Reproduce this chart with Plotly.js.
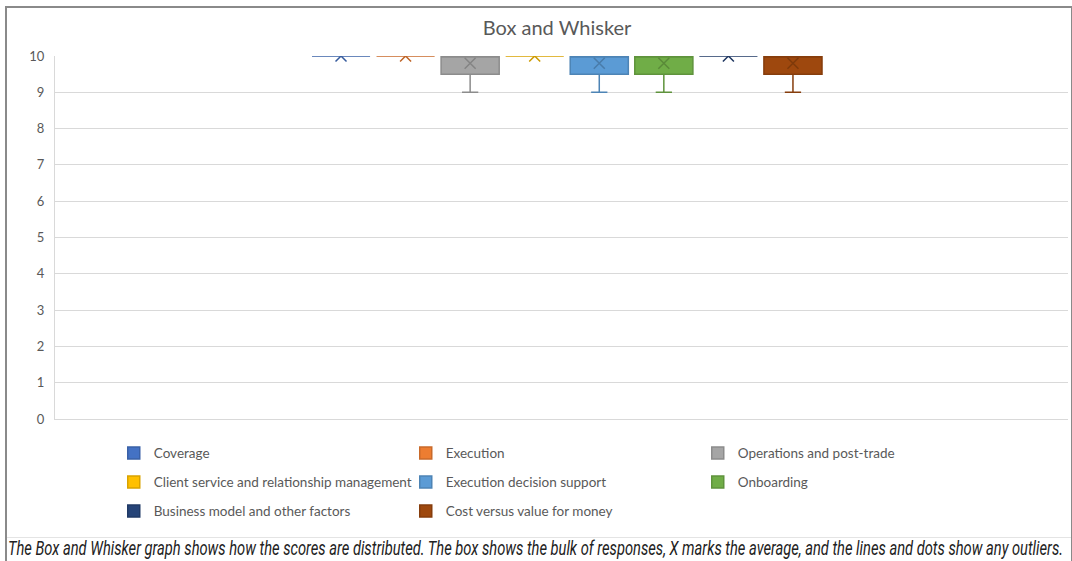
<!DOCTYPE html>
<html>
<head>
<meta charset="utf-8">
<script src="https://cdn.plot.ly/plotly-3.0.1.min.js"></script>
<style>
  html, body { margin: 0; padding: 0; background: #ffffff; }
  #chart { position: absolute; left: 0; top: 0; width: 1072px; height: 561px; }
  #frame { position: absolute; left: 5px; top: 6px; width: 1064px; height: 560px;
           border: 2px solid #8a8a8a; border-bottom: none; pointer-events: none; }
  #rule  { position: absolute; left: 7px; top: 537px; width: 1064px; height: 0;
           border-top: 1px solid #e4e4e4; pointer-events: none; }
  #caption { position: absolute; left: 8px; top: 536px; display: inline-block;
             white-space: nowrap; font-family: Roboto, "Noto Sans", sans-serif;
             font-style: italic; font-size: 20px; line-height: 24px; color: #222222;
             transform-origin: 0 50%; }
</style>
</head>
<body>
<div id="chart"></div>
<div id="frame"></div>
<div id="rule"></div>
<div id="caption"></div>
<script>
// Score categories, in legend order
const seriesNames = [
  'Coverage',
  'Execution',
  'Operations and post-trade',
  'Client service and relationship management',
  'Execution decision support',
  'Onboarding',
  'Business model and other factors',
  'Cost versus value for money'
];
const seriesColors = ['#4472C4', '#ED7D31', '#A5A5A5', '#FFC000', '#5B9BD5', '#70AD47', '#264478', '#9E480E'];

// Box statistics per category (score out of 10)
const q1Values       = [10, 10, 9.5, 10, 9.5, 9.5, 10, 9.5];
const medianValues   = [10, 10, 10,  10, 10,  10,  10, 10];
const q3Values       = [10, 10, 10,  10, 10,  10,  10, 10];
const lowerWhiskers  = [10, 10, 9,   10, 9,   9,   10, 9];
const upperWhiskers  = [10, 10, 10,  10, 10,  10,  10, 10];
const meanValues     = [10, 10, 9.8, 10, 9.8, 9.8, 10, 9.8];

const yTickValues = [0, 1, 2, 3, 4, 5, 6, 7, 8, 9, 10];
const chartTitle = 'Box and Whisker';
const captionText = 'The Box and Whisker graph shows how the scores are distributed. The box shows the bulk of responses, X marks the average, and the lines and dots show any outliers.';

function darken(hex, f) {
  const n = parseInt(hex.slice(1), 16);
  const r = Math.round(((n >> 16) & 255) * f);
  const g = Math.round(((n >> 8) & 255) * f);
  const b = Math.round((n & 255) * f);
  return 'rgb(' + r + ',' + g + ',' + b + ')';
}

const legendIds = ['legend', 'legend2', 'legend3'];
const traces = [];

seriesNames.forEach((name, i) => {
  const edge = darken(seriesColors[i], 0.85);
  traces.push({
    type: 'box',
    name: name,
    x: [i],
    q1: [q1Values[i]],
    median: [medianValues[i]],
    q3: [q3Values[i]],
    lowerfence: [lowerWhiskers[i]],
    upperfence: [upperWhiskers[i]],
    width: 0.9,
    whiskerwidth: 0.28,
    fillcolor: seriesColors[i],
    line: { color: edge, width: 1.5 },
    boxpoints: false,
    hoverinfo: 'y',
    legend: legendIds[Math.floor(i / 3)]
  });
});

// Average markers drawn as an X on each box
seriesNames.forEach((name, i) => {
  const mark = darken(seriesColors[i], 0.8);
  traces.push({
    type: 'scatter',
    mode: 'markers',
    x: [i],
    y: [meanValues[i]],
    name: name + ' average',
    showlegend: false,
    hoverinfo: 'y',
    marker: { symbol: 'x-thin-open', size: 11, color: mark, line: { color: mark, width: 1.5 } }
  });
});

const baseFont = 'Lato, "Open Sans", sans-serif';
const legendFont = { family: baseFont, size: 13.5, color: '#595959' };
function legendRow(yPos) {
  return {
    orientation: 'h',
    x: 0.058, xanchor: 'left',
    y: yPos, yanchor: 'middle',
    entrywidth: 247, entrywidthmode: 'pixels',
    font: legendFont,
    bgcolor: 'rgba(0,0,0,0)',
    traceorder: 'normal'
  };
}

const layout = {
  width: 1072,
  height: 561,
  margin: { l: 55, r: 4, t: 56, b: 142, pad: 0 },
  paper_bgcolor: '#ffffff',
  plot_bgcolor: '#ffffff',
  font: { family: baseFont, color: '#595959' },
  title: {
    text: chartTitle,
    font: { family: baseFont, size: 20, color: '#595959' },
    x: 0.4956, xref: 'paper', xanchor: 'center',
    y: 0.95, yref: 'container', yanchor: 'middle'
  },
  showlegend: true,
  legend: legendRow(-0.0945),
  legend2: legendRow(-0.1744),
  legend3: legendRow(-0.2543),
  xaxis: {
    range: [-4.43, 11.26],
    showticklabels: false,
    ticks: '',
    showgrid: false,
    zeroline: false,
    showline: true,
    linecolor: '#d9d9d9',
    linewidth: 1,
    fixedrange: true
  },
  yaxis: {
    range: [0, 10],
    tickvals: yTickValues,
    ticktext: yTickValues.map(String),
    tickfont: { family: baseFont, size: 13, color: '#595959' },
    ticks: '',
    ticklabelstandoff: 7,
    showgrid: true,
    gridcolor: '#d9d9d9',
    gridwidth: 1,
    zeroline: false,
    showline: true,
    linecolor: '#d9d9d9',
    linewidth: 1,
    fixedrange: true
  }
};

Plotly.newPlot('chart', traces, layout, { displayModeBar: false, staticPlot: true });

// Caption below the chart, set in a condensed italic that spans the frame
const caption = document.getElementById('caption');
caption.textContent = captionText;
const naturalWidth = caption.getBoundingClientRect().width;
caption.style.transform = 'scaleX(' + (1055 / naturalWidth) + ')';
</script>
</body>
</html>
